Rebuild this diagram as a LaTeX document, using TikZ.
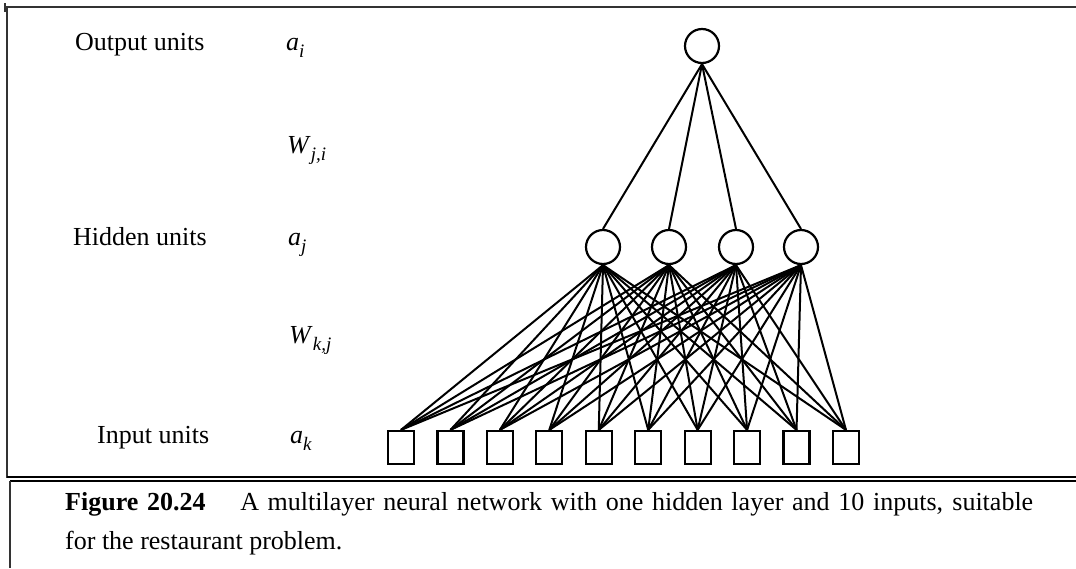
\documentclass[tikz,border=0pt]{standalone}
\usepackage{fontspec}
\setmainfont{Liberation Serif}
\newcommand{\sbs}[1]{\raisebox{-0.28em}{\fontsize{19}{19}\selectfont\itshape #1}}
\begin{document}
\begin{tikzpicture}[x=1pt,y=-1pt,
  unit/.style={draw,circle,line width=2.2pt,minimum size=34pt,inner sep=0pt},
  inbox/.style={draw,rectangle,line width=2.2pt,minimum width=26pt,minimum height=33pt,inner sep=0pt},
  conn/.style={line width=2pt},
  frame/.style={line width=2pt,draw=black!80},
  lbl/.style={anchor=base west,inner sep=0pt,font=\fontsize{26}{30}\selectfont},
]
\useasboundingbox (0,0) rectangle (1076,568);
% frames
\draw[frame] (5,7) -- (1076,7);
\draw[frame] (5,3) -- (5,12);
\draw[frame] (7,7) -- (7,478);
\draw[line width=1.3pt] (7,477) -- (1076,477);
\draw[line width=1.3pt] (10,481) -- (1076,481);
\draw[frame] (10,481) -- (10,568);
% nodes
\node[unit] (o) at (702,46) {};
\foreach \i/\x in {1/603,2/669,3/736,4/801} \node[unit] (h\i) at (\x,247) {};
\foreach \k in {1,...,10} \node[inbox] (x\k) at ({401+49.44*(\k-1)},447.5) {};
\foreach \i in {1,...,4} \draw[conn] (o.south) -- (h\i.north);
\foreach \i in {1,...,4} \foreach \k in {1,...,10} \draw[conn] (h\i.south) -- (x\k.north);
% labels
\node[lbl] (lo) at (75,50) {Output units};
\node[lbl] (ai) at (286,50) {\textit{a}\sbs{i}};
\node[lbl] (wji) at (287,153) {\textit{W}\sbs{j,i}};
\node[lbl] (lh) at (73,245) {Hidden units};
\node[lbl] (aj) at (288,245) {\textit{a}\sbs{j}};
\node[lbl] (wkj) at (289,343) {\textit{W}\sbs{k,j}};
\node[lbl] (li) at (97,443) {Input units};
\node[lbl] (ak) at (290,443) {\textit{a}\sbs{k}};
% caption
\node[lbl] (cap1) at (65,510) {\makebox[968pt][s]{\textbf{Figure 20.24}\hspace{1em} A multilayer neural network with one hidden layer and 10 inputs, suitable}};
\node[lbl] (cap2) at (65,549) {for the restaurant problem.};
\end{tikzpicture}
\end{document}
